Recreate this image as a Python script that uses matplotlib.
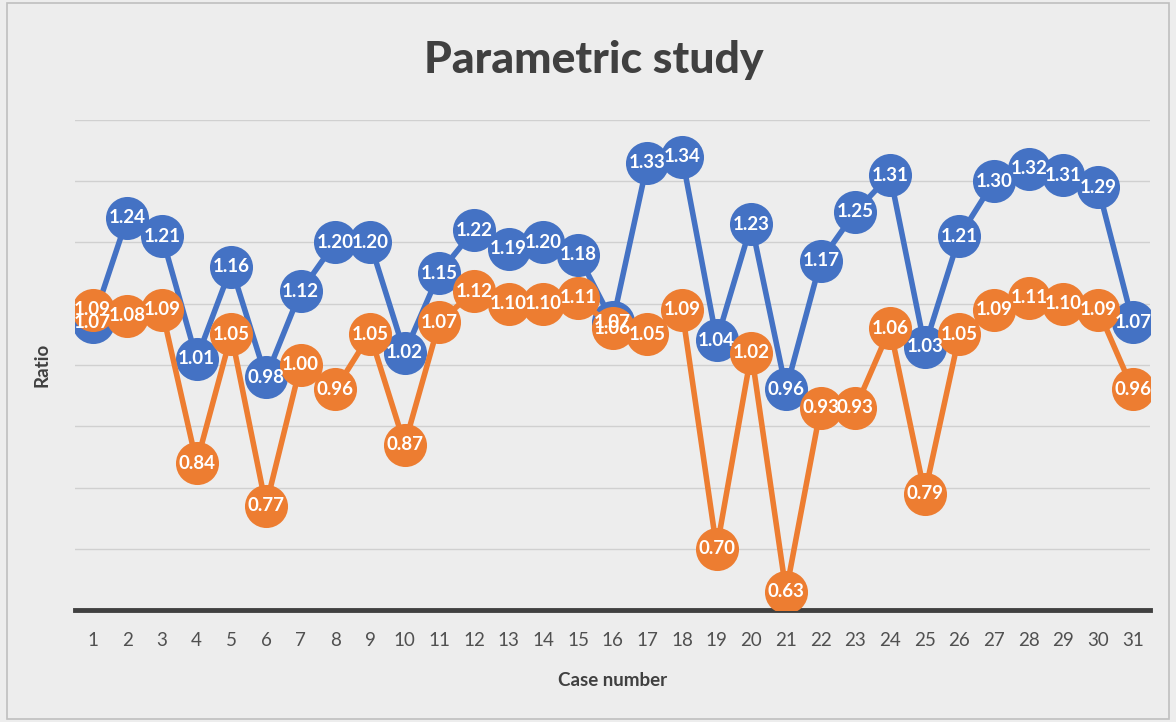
import matplotlib.pyplot as plt
from matplotlib.patches import Rectangle

cases = list(range(1, 32))
blue_vals = [1.07, 1.24, 1.21, 1.01, 1.16, 0.98, 1.12, 1.20, 1.20, 1.02,
             1.15, 1.22, 1.19, 1.20, 1.18, 1.07, 1.33, 1.34, 1.04, 1.23,
             0.96, 1.17, 1.25, 1.31, 1.03, 1.21, 1.30, 1.32, 1.31, 1.29, 1.07]
orange_vals = [1.09, 1.08, 1.09, 0.84, 1.05, 0.77, 1.00, 0.96, 1.05, 0.87,
               1.07, 1.12, 1.10, 1.10, 1.11, 1.06, 1.05, 1.09, 0.70, 1.02,
               0.63, 0.93, 0.93, 1.06, 0.79, 1.05, 1.09, 1.11, 1.10, 1.09, 0.96]

plt.rcParams['font.family'] = ['Lato', 'DejaVu Sans']

bg = '#EDEDED'
fig = plt.figure(figsize=(11.76, 7.22), dpi=100, facecolor=bg)
ax = fig.add_axes([0.064, 0.155, 0.914, 0.679], facecolor=bg)

# outer frame
fig.patches.append(Rectangle((0.006, 0.004), 0.988, 0.992, transform=fig.transFigure,
                             fill=False, edgecolor='#BFBFBF', linewidth=1.2))

for vals, col in [(blue_vals, '#4472C4'), (orange_vals, '#ED7D31')]:
    ax.plot(cases, vals, color=col, linewidth=4, marker='o', markersize=31,
            markeredgewidth=0, zorder=3)

for vals in [blue_vals, orange_vals]:
    for x, v in zip(cases, vals):
        ax.text(x, v, f'{v:.2f}', color='white', fontsize=13.5, fontweight='bold',
                ha='center', va='center', zorder=5)

ax.set_xlim(0.5, 31.5)
ax.set_ylim(0.6, 1.4)
ax.set_yticks([0.7, 0.8, 0.9, 1.0, 1.1, 1.2, 1.3, 1.4])
ax.set_yticklabels([])
ax.tick_params(axis='y', length=0)
ax.yaxis.grid(True, color='#D0D0D0', linewidth=1)
ax.set_axisbelow(True)

ax.set_xticks(cases)
ax.tick_params(axis='x', length=0, labelsize=13.5, labelcolor='#505050', pad=16)

for s in ['top', 'right', 'left']:
    ax.spines[s].set_visible(False)
ax.spines['bottom'].set_color('#404040')
ax.spines['bottom'].set_linewidth(3.5)
ax.spines['bottom'].set_zorder(2)

fig.text(0.505, 0.917, 'Parametric study', fontsize=32, fontweight='black',
         color='#404040', ha='center', va='center')
ax.set_xlabel('Case number', fontsize=13.5, fontweight='bold', color='#404040', labelpad=16)
ax.set_ylabel('Ratio', fontsize=13.5, fontweight='bold', color='#404040', labelpad=14)

plt.savefig('out.png', dpi=100, facecolor=bg)
